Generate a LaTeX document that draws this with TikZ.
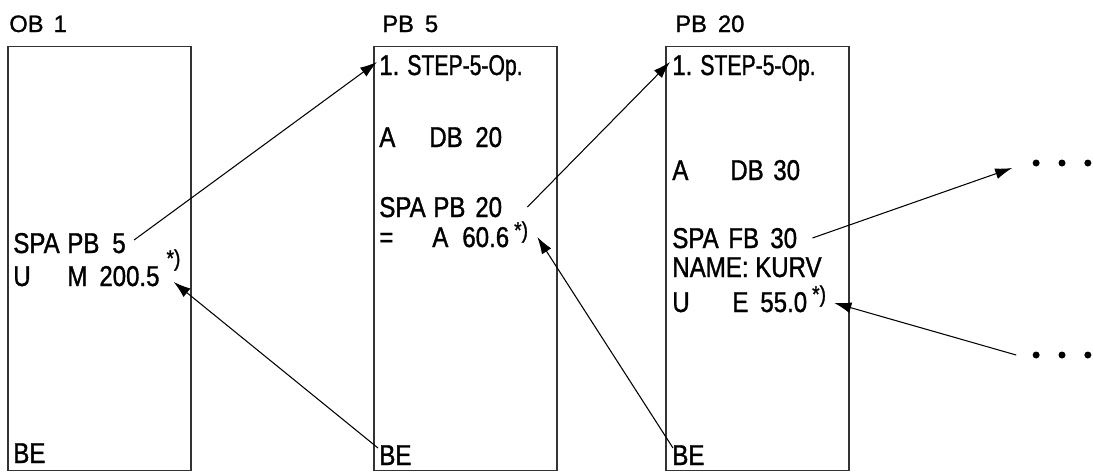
\documentclass[tikz,border=0pt]{standalone}
\usepackage{fontspec}
\setmainfont{Liberation Sans}[FakeStretch=0.84,FakeBold=1.2]
\newfontfamily\titlefont{Liberation Sans}[FakeBold=1.2]
\usetikzlibrary{arrows.meta}

% fixed column for the operand layout
\newcommand{\tb}[2]{\makebox[#1][l]{#2}}
% footnote mark: gap, raise
\newcommand{\fnmark}[2]{\hspace{#1}\raisebox{#2}{\fontsize{13pt}{13pt}\selectfont *)}}
\newcommand{\firstop}{\tb{0.56cm}{1.}\scalebox{0.88}[1]{STEP-5-Op.}}

\begin{document}
\begin{tikzpicture}[
		x=0.02cm, y=-0.02cm,
		>={Latex[length=3.4mm,width=2.2mm]},
		block/.style={draw=black!80, line width=0.6pt, minimum width=3.66cm, minimum height=8.5cm, inner sep=0pt},
		title/.style={anchor=base west, inner sep=0pt, font=\titlefont\fontsize{13.5pt}{16pt}\selectfont},
		line/.style={anchor=base west, inner sep=0pt, font=\fontsize{16.3pt}{19pt}\selectfont},
		dotsbox/.style={inner sep=0pt, minimum width=1.02cm, minimum height=0.12cm},
		call/.style={->, line width=0.6pt}
		]
		\useasboundingbox (0,0) rectangle (1093,474);
		
		% --- BLOCKS ---
		\node[block] (ob1) at (99.5,258.5) {};
		\node[block] (pb5) at (465.5,258.5) {};
		\node[block] (pb20) at (757.5,258.5) {};
		
		\node[title] (ob1t) at (9,32) {OB\hspace{0.2cm}1};
		\node[title] (pb5t) at (382,32) {PB\hspace{0.22cm}5};
		\node[title] (pb20t) at (675,32) {PB\hspace{0.22cm}20};
		
		% --- OB 1 ---
		\node[line] (ob1spa) at (13,253) {\tb{1.08cm}{SPA}\tb{0.9cm}{PB}5};
		\node[line] (ob1u) at (13,286) {\tb{1.08cm}{U}\tb{0.64cm}{M}200.5\fnmark{0.14cm}{0.4cm}};
		\node[line] (ob1be) at (13,463) {BE};
		
		% --- PB 5 ---
		\node[line] (pb5op) at (379,75) {\firstop};
		\node[line] (pb5a) at (379,147) {\tb{1.0cm}{A}\tb{0.92cm}{DB}20};
		\node[line] (pb5spa) at (379,217) {\tb{1.08cm}{SPA}\tb{0.84cm}{PB}20};
		\node[line] (pb5eq) at (379,247) {\tb{1.06cm}{=}\tb{0.6cm}{A}60.6\fnmark{0.1cm}{0.18cm}};
		\node[line] (pb5be) at (379,465) {BE};
		
		% --- PB 20 ---
		\node[line] (pb20op) at (672,75) {\firstop};
		\node[line] (pb20a) at (672,180) {\tb{1.16cm}{A}\tb{0.86cm}{DB}30};
		\node[line] (pb20spa) at (672,248) {\tb{1.12cm}{SPA}\tb{0.84cm}{FB}30};
		\node[line] (pb20name) at (672,277) {NAME: KURV};
		\node[line] (pb20u) at (672,312) {\tb{1.2cm}{U}\tb{0.56cm}{E}55.0\fnmark{0.1cm}{0.2cm}};
		\node[line] (pb20be) at (672,465) {BE};
		
		% --- CONTINUATION ---
		\node[dotsbox] (more1) at (1062,163) {};
		\node[dotsbox] (more2) at (1062,355) {};
		\foreach \m in {more1,more2}
			\foreach \d in {west,center,east}
				\fill (\m.\d) circle (0.07cm);
		
		% --- CALLS AND RETURNS ---
		\draw[call] ([xshift=0.16cm,yshift=0.26cm]ob1spa.base east) -- ([xshift=-0.04cm,yshift=0.26cm]pb5op.base west);
		\draw[call] ([xshift=-0.02cm,yshift=0.34cm]pb5be.base west) -- ([xshift=-0.14cm,yshift=0.08cm]ob1u.base east);
		
		\draw[call] ([xshift=0.5cm,yshift=0.2cm]pb5spa.base east) -- ([xshift=-0.04cm,yshift=0.26cm]pb20op.base west);
		\draw[call] ([xshift=0.02cm,yshift=0.34cm]pb20be.base west) -- ([xshift=0.18cm,yshift=0.2cm]pb5eq.base east);
		
		\draw[call] ([xshift=0.3cm,yshift=0.2cm]pb20spa.base east) -- ([xshift=-0.48cm,yshift=-0.1cm]more1.west);
		\draw[call] ([xshift=-0.4cm]more2.west) -- ([xshift=0.16cm,yshift=0.18cm]pb20u.base east);
		
	\end{tikzpicture}
\end{document}
